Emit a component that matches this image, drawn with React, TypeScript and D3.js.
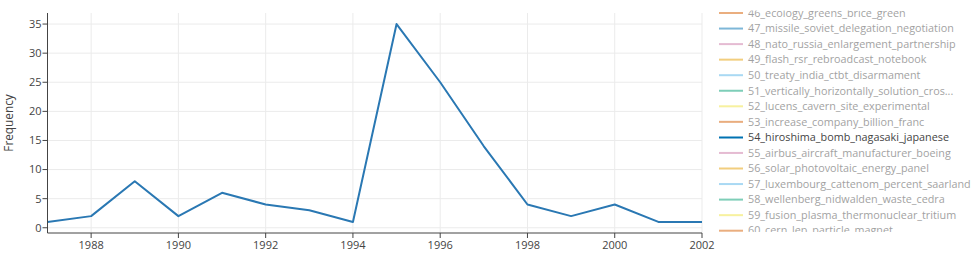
import React from "react";
import * as d3 from "d3";

const years = [1987, 1988, 1989, 1990, 1991, 1992, 1993, 1994, 1995, 1996, 1997, 1998, 1999, 2000, 2001, 2002];
const frequency = [1, 2, 8, 2, 6, 4, 3, 1, 35, 25, 14, 4, 2, 4, 1, 1];
const xTicks = [1988, 1990, 1992, 1994, 1996, 1998, 2000, 2002];
const yTicks = [0, 5, 10, 15, 20, 25, 30, 35];
const legendNames = [
  "46_ecology_greens_brice_green",
  "47_missile_soviet_delegation_negotiation",
  "48_nato_russia_enlargement_partnership",
  "49_flash_rsr_rebroadcast_notebook",
  "50_treaty_india_ctbt_disarmament",
  "51_vertically_horizontally_solution_cros...",
  "52_lucens_cavern_site_experimental",
  "53_increase_company_billion_franc",
  "54_hiroshima_bomb_nagasaki_japanese",
  "55_airbus_aircraft_manufacturer_boeing",
  "56_solar_photovoltaic_energy_panel",
  "57_luxembourg_cattenom_percent_saarland",
  "58_wellenberg_nidwalden_waste_cedra",
  "59_fusion_plasma_thermonuclear_tritium",
  "60_cern_lep_particle_magnet",
];
const legendColors = ["#D55E00", "#0072B2", "#CC79A7", "#E69F00", "#56B4E9", "#009E73", "#F0E442"];
const activeIndex = 8;

const W = 975;
const H = 263;
const FONT = "'Open Sans', verdana, arial, sans-serif";

export default function App() {
  const left = 47.5, right = 702, top = 13, bottom = 233;
  const x = d3.scaleLinear().domain([1987, 2002]).range([left, right]);
  const y = d3.scaleLinear().domain([-0.9, 36.9]).range([bottom, top]);
  const line = d3.line<number>().x((_, i) => x(years[i])).y((d) => y(d));

  const legTop = 13;
  const legStep = 15.55;

  return (
    <svg width={W} height={H} style={{ position: "absolute", left: 0, top: 0, background: "#fff" }} fontFamily={FONT}>
      <defs>
        <clipPath id="plotclip">
          <rect x={left} y={top} width={right - left + 1} height={bottom - top} />
        </clipPath>
        <clipPath id="legclip">
          <rect x={710} y={10.5} width={265} height={221.5} />
        </clipPath>
      </defs>
      {yTicks.map((t) => (
        <line key={"gy" + t} x1={left} x2={right} y1={y(t)} y2={y(t)} stroke="#ebebeb" strokeWidth={1} />
      ))}
      {xTicks.map((t) => (
        <line key={"gx" + t} x1={x(t)} x2={x(t)} y1={top} y2={bottom} stroke="#ebebeb" strokeWidth={1} />
      ))}
      <path d={line(frequency) || ""} fill="none" stroke="#2a78b3" strokeWidth={2} clipPath="url(#plotclip)" strokeLinejoin="round" />
      <line x1={left} x2={left} y1={top} y2={bottom} stroke="#444" strokeWidth={1} />
      <line x1={left} x2={right} y1={bottom} y2={bottom} stroke="#444" strokeWidth={1} />
      {yTicks.map((t) => (
        <g key={"ty" + t}>
          <line x1={left - 5} x2={left} y1={y(t)} y2={y(t)} stroke="#444" strokeWidth={1} />
          <text x={left - 6} y={y(t)} dy="0.35em" textAnchor="end" fontSize={11} fill="#444">
            {t}
          </text>
        </g>
      ))}
      {xTicks.map((t) => (
        <g key={"tx" + t}>
          <line x1={x(t)} x2={x(t)} y1={bottom} y2={bottom + 5} stroke="#444" strokeWidth={1} />
          <text x={x(t)} y={bottom + 12} dy="0.35em" textAnchor="middle" fontSize={11} fill="#444">
            {t}
          </text>
        </g>
      ))}
      <text
        transform={`translate(13,${(top + bottom) / 2}) rotate(-90)`}
        textAnchor="middle"
        fontSize={11.8}
        fill="#444"
      >
        Frequency
      </text>
      <g clipPath="url(#legclip)">
        {legendNames.map((name, i) => {
          const cy = legTop + i * legStep;
          const op = i === activeIndex ? 1 : 0.5;
          return (
            <g key={name} opacity={op}>
              <line x1={719} x2={743} y1={cy} y2={cy} stroke={legendColors[i % legendColors.length]} strokeWidth={2} />
              <text x={748} y={cy} dy="0.35em" fontSize={10.8} fill="#444">
                {name}
              </text>
            </g>
          );
        })}
      </g>
    </svg>
  );
}
